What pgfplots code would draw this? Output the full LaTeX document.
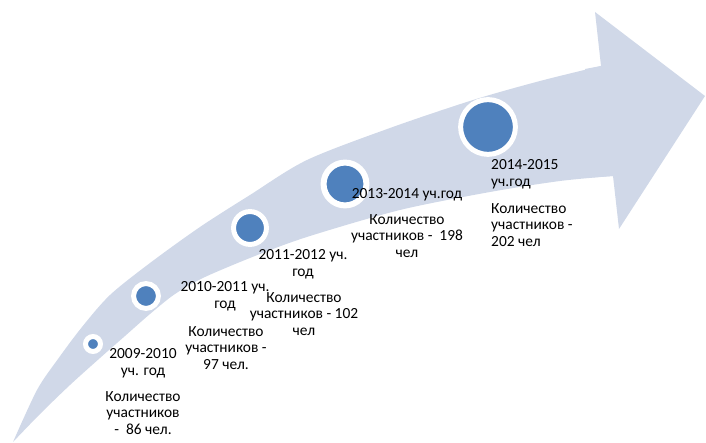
\documentclass[border=0pt]{standalone}
\usepackage{fontspec}
\setmainfont{Carlito}
\usepackage{pgfplots}
\pgfplotsset{compat=1.18}
\usepgfplotslibrary{fillbetween}
\definecolor{band}{RGB}{208,216,232}
\definecolor{dot}{RGB}{79,129,189}
\begin{document}
\begin{tikzpicture}
\begin{axis}[scale only axis, width=706bp, height=443bp,
  xmin=0, xmax=706, ymin=0, ymax=443, y dir=reverse, hide axis]
% arrow shaft
\addplot[name path=up, draw=none, smooth] coordinates {
 (13,442) (37,390) (58,359) (82,327) (110,295) (150,263) (200,227)
 (250,195) (307,160) (390,128) (473,100) (540,81) (601,66)};
\addplot[name path=lo, draw=none, smooth] coordinates {
 (13,442) (40,414) (70,385) (100,358) (125,336) (150,314) (175,294)
 (205,277) (260,254) (310,236) (400,210) (490,192) (560,181) (613,176)};
\addplot[fill=band, draw=none] fill between[of=up and lo];
% arrow head
\addplot[fill=band, draw=none] coordinates {
 (585,69) (601,66) (595,12) (705,96) (619,229) (613,176) (585,178)} --cycle;
% circles
\addplot[only marks, mark=*, mark size=7.5, mark options={fill=dot, draw=white, line width=5}] coordinates {(93,344)};
\addplot[only marks, mark=*, mark size=12.5, mark options={fill=dot, draw=white, line width=5}] coordinates {(146,296)};
\addplot[only marks, mark=*, mark size=16.5, mark options={fill=dot, draw=white, line width=5}] coordinates {(250,228)};
\addplot[only marks, mark=*, mark size=21.5, mark options={fill=dot, draw=white, line width=6}] coordinates {(345,184)};
\addplot[only marks, mark=*, mark size=27.5, mark options={fill=dot, draw=white, line width=5}] coordinates {(488,127)};
% label anchors
\coordinate (L1a) at (axis cs:143,363);
\coordinate (L1b) at (axis cs:143,413);
\coordinate (L2a) at (axis cs:225,296);
\coordinate (L2b) at (axis cs:226,348);
\coordinate (L3a) at (axis cs:303,264);
\coordinate (L3b) at (axis cs:304,314);
\coordinate (L4a) at (axis cs:407,195);
\coordinate (L4b) at (axis cs:407,236);
\coordinate (L5a) at (axis cs:491,174);
\coordinate (L5b) at (axis cs:491,225);
\end{axis}
\tikzset{lab/.style={inner sep=0pt, font=\fontsize{15.5}{16.8}\selectfont}}
\node[lab, align=center] at (L1a) {2009-2010\\уч. год};
\node[lab, align=center] at (L1b) {Количество\\участников\\-~ 86 чел.};
\node[lab, align=center] at (L2a) {2010-2011 уч.\\год};
\node[lab, align=center] at (L2b) {Количество\\участников -\\97 чел.};
\node[lab, align=center] at (L3a) {2011-2012 уч.\\год};
\node[lab, align=center] at (L3b) {Количество\\участников - 102\\чел};
\node[lab, align=center] at (L4a) {2013-2014 уч.год};
\node[lab, align=center] at (L4b) {Количество\\участников -~ 198\\чел};
\node[lab, align=left, anchor=west] at (L5a) {2014-2015\\уч.год};
\node[lab, align=left, anchor=west] at (L5b) {Количество\\участников -\\202 чел};
\end{tikzpicture}
\end{document}
